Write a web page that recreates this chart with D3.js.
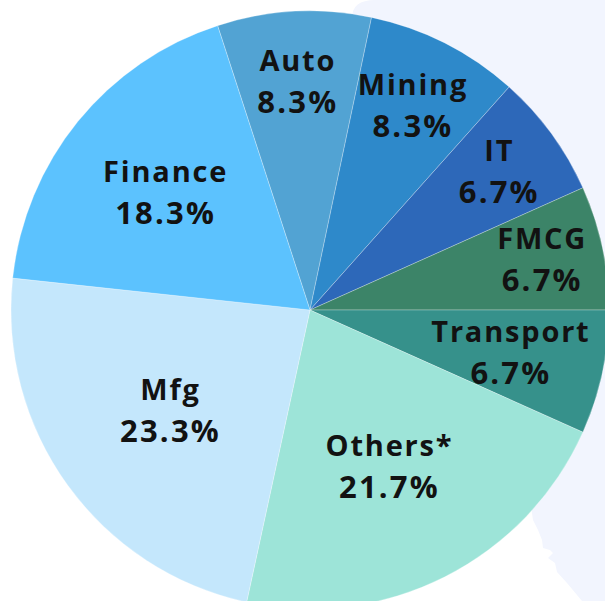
<!DOCTYPE html>
<html lang="en">
<head>
  <meta charset="UTF-8">
  <title>Sector share pie</title>
  <script src="https://d3js.org/d3.v7.min.js"></script>
  <style>
    body {
      margin: 0;
      background: #fff;
      font-family: "Open Sans", Lato, sans-serif;
    }
    .label text {
      font-weight: 700;
      fill: #121212;
      text-anchor: middle;
    }
  </style>
</head>
<body>
  <div id="chart"></div>
  <script>
    const sectors = ["Auto", "Mining", "IT", "FMCG", "Transport", "Others*", "Mfg", "Finance"];
    const shares = [8.3, 8.3, 6.7, 6.7, 6.7, 21.7, 23.3, 18.3];
    const colors = ["#52a3d3", "#2e89ca", "#2d68b9", "#3c8468", "#36918b", "#9de4d8", "#c4e7fc", "#5cc2fe"];

    const width = 605, height = 601;
    const cx = 310, cy = 310, radius = 299;

    const data = sectors.map((s, i) => ({ sector: s, share: shares[i], color: colors[i] }));

    const svg = d3.select("#chart").append("svg")
      .attr("width", width)
      .attr("height", height);

    // light backdrop shape on the right
    svg.append("path")
      .attr("d", "M375,0 L605,0 L605,601 L582,601 L567,583 L557,572 L555,563 L548,558 L553,553 L550,550 L543,548 L542,540 L538,530 L533,520 L530,500 L420,300 L352,40 L352,18 Q352,0 375,0 Z")
      .attr("fill", "#f2f5fe");

    const pie = d3.pie()
      .sort(null)
      .value(d => d.share)
      .startAngle(-0.1 * Math.PI)
      .endAngle(1.9 * Math.PI);

    const arc = d3.arc().innerRadius(0).outerRadius(radius);

    const g = svg.append("g").attr("transform", `translate(${cx},${cy})`);
    const arcs = pie(data);

    g.selectAll("path.slice")
      .data(arcs)
      .enter()
      .append("path")
      .attr("class", "slice")
      .attr("d", arc)
      .attr("fill", d => d.data.color)
      .attr("stroke", "rgba(255,255,255,0.35)")
      .attr("stroke-width", 0.8);

    // labels: name + percentage
    const labels = g.selectAll("g.label")
      .data(arcs)
      .enter()
      .append("g")
      .attr("class", "label");

    labels.append("text")
      .attr("y", -11)
      .style("font-size", "29px")
      .style("letter-spacing", "1.8px")
      .text(d => d.data.sector);

    labels.append("text")
      .attr("y", 31)
      .style("font-size", "31px")
      .style("letter-spacing", "2.2px")
      .text(d => d.data.share.toFixed(1) + "%");

    // place each label along its bisector, pulled in so the box stays inside the pie
    labels.each(function(d) {
      const box = this.getBBox();
      const half = (d.endAngle - d.startAngle) / 2;
      const mid = (d.startAngle + d.endAngle) / 2;
      const rIns = Math.min(1 / (1 + 1 / Math.sin(half)), 0.5);
      let r = radius * (1 - rIns) * 0.96;
      const limit = radius - 6;
      const fits = rr => {
        const x = rr * Math.sin(mid), y = -rr * Math.cos(mid);
        return [[box.x, box.y], [box.x + box.width, box.y], [box.x, box.y + box.height], [box.x + box.width, box.y + box.height]]
          .every(([bx, by]) => Math.hypot(x + bx, y + by) <= limit);
      };
      while (r > 0 && !fits(r)) r -= 1;
      d3.select(this).attr("transform", `translate(${r * Math.sin(mid)},${-r * Math.cos(mid)})`);
    });
  </script>
</body>
</html>
